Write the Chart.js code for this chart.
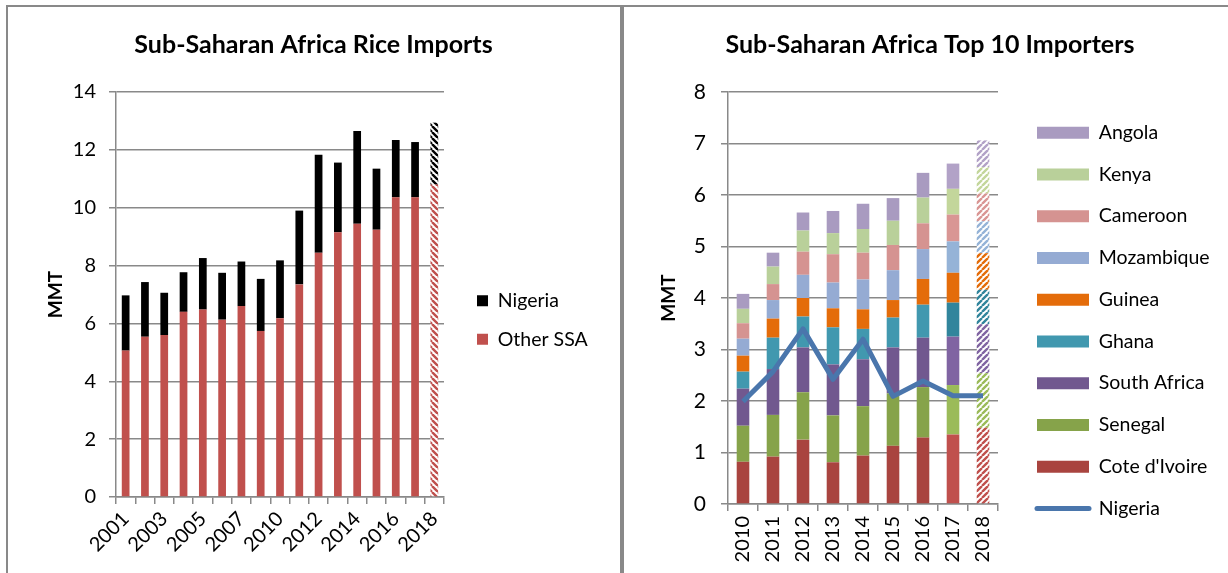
<!DOCTYPE html>
<html>
<head>
<meta charset="utf-8">
<title>Sub-Saharan Africa Rice Imports</title>
<script src="https://cdn.jsdelivr.net/npm/chart.js@4.4.1/dist/chart.umd.min.js"></script>
<style>
  html, body { margin: 0; padding: 0; background: #fff; overflow: hidden; }
  #page { position: relative; width: 1228px; height: 573px; overflow: hidden; }
  #leftFrame { position: absolute; left: 6px; top: 5px; width: 612px; height: 600px; border: 2px solid #898989; }
  #rightFrame { position: absolute; left: 622px; top: 5px; width: 700px; height: 600px; border-top: 2px solid #898989; border-left: 2px solid #898989; }
  canvas { position: absolute; top: 0; }
  #imports { left: 0; }
  #importers { left: 622px; }
</style>
</head>
<body>
<div id="page">
  <div id="leftFrame"></div>
  <div id="rightFrame"></div>
  <canvas id="imports" width="622" height="573"></canvas>
  <canvas id="importers" width="640" height="573"></canvas>
</div>
<script>
const FONT = 'Lato, "Open Sans", sans-serif';
const GRID = '#898989';
const LEGEND_SIZE = 19.5;

// left chart: SSA rice imports, MMT
const ssaYears = ['2001', '2002', '2003', '2004', '2005', '2006', '2007', '2008', '2010',
                  '2011', '2012', '2013', '2014', '2015', '2016', '2017', '2018'];
const ssaOther = [5.06, 5.54, 5.60, 6.40, 6.48, 6.13, 6.60, 5.74, 6.18,
                  7.35, 8.44, 9.15, 9.45, 9.24, 10.36, 10.36, 10.80];
const ssaNigeria = [1.91, 1.89, 1.46, 1.37, 1.78, 1.62, 1.54, 1.80, 2.00,
                    2.55, 3.39, 2.41, 3.20, 2.11, 1.98, 1.91, 2.14];
const ssaTicks = [0, 2, 4, 6, 8, 10, 12, 14];

// right chart: top 10 importers, MMT
const topYears = ['2010', '2011', '2012', '2013', '2014', '2015', '2016', '2017', '2018'];
const coteDIvoire = [0.82, 0.92, 1.25, 0.81, 0.94, 1.13, 1.29, 1.35, 1.48];
const senegal     = [0.70, 0.81, 0.92, 0.91, 0.96, 1.02, 0.98, 0.96, 1.06];
const southAfrica = [0.72, 0.89, 0.87, 0.99, 0.91, 0.89, 0.96, 0.94, 0.95];
const ghana       = [0.33, 0.61, 0.60, 0.72, 0.59, 0.58, 0.64, 0.66, 0.67];
const guinea      = [0.31, 0.37, 0.36, 0.37, 0.38, 0.34, 0.50, 0.58, 0.71];
const mozambique  = [0.33, 0.36, 0.45, 0.50, 0.58, 0.58, 0.58, 0.61, 0.62];
const cameroon    = [0.30, 0.31, 0.45, 0.55, 0.52, 0.49, 0.50, 0.52, 0.54];
const kenya       = [0.28, 0.34, 0.41, 0.41, 0.46, 0.47, 0.50, 0.50, 0.51];
const angola      = [0.29, 0.27, 0.35, 0.43, 0.49, 0.44, 0.48, 0.49, 0.52];
const nigeriaTop  = [1.99, 2.57, 3.40, 2.42, 3.20, 2.09, 2.39, 2.10, 2.10];
const topTicks = [0, 1, 2, 3, 4, 5, 6, 7, 8];

function textWidth(text, size, weight) {
  const g = document.createElement('canvas').getContext('2d');
  g.font = (weight ? weight + ' ' : '') + size + 'px ' + FONT;
  return g.measureText(text).width;
}

// diagonal hatch used for the 2018 estimate
function hatch(color, up) {
  const s = 6;
  const c = document.createElement('canvas');
  c.width = c.height = s;
  const g = c.getContext('2d');
  g.fillStyle = '#ffffff';
  g.fillRect(0, 0, s, s);
  g.strokeStyle = color;
  g.lineWidth = 2.4;
  g.beginPath();
  for (const k of [-s, 0, s]) {
    if (up) { g.moveTo(k, s); g.lineTo(k + s, 0); }
    else { g.moveTo(k, 0); g.lineTo(k + s, s); }
  }
  g.stroke();
  return g.createPattern(c, 'repeat');
}

function barColors(n, base, late, up) {
  const out = [];
  for (let i = 0; i < n; i++) out.push(base);
  out[n - 2] = late;
  out[n - 1] = hatch(late, up);
  return out;
}

// right padding so the legend box lands at boxX
function legendRightPad(labels, size, boxW, boxX, pad, canvasW) {
  const widest = Math.max(...labels.map(t => textWidth(t, size)));
  const legendW = pad + boxW + size / 2 + widest + 10;
  return canvasW - (boxX - pad + legendW);
}

function everyOther(v, i) {
  return i % 2 === 0 ? this.getLabelForValue(v) : '';
}

// ---------- left chart ----------
const padL_item = 38.6 - LEGEND_SIZE;
const padRL = legendRightPad(['Nigeria', 'Other SSA'], LEGEND_SIZE, 11, 477, padL_item, 622);
const padLL = Math.max(0, padRL + 5);

new Chart(document.getElementById('imports'), {
  type: 'bar',
  data: {
    labels: ssaYears,
    datasets: [
      { label: 'Other SSA', data: ssaOther, yAxisID: 'y',
        backgroundColor: barColors(ssaYears.length, '#C0504D', '#C0504D', false) },
      { label: 'Nigeria', data: ssaNigeria, yAxisID: 'y',
        backgroundColor: barColors(ssaYears.length, '#000000', '#000000', false) }
    ]
  },
  options: {
    responsive: false,
    animation: false,
    layout: { padding: { left: padLL, right: padRL, top: 0, bottom: 0 } },
    datasets: { bar: { categoryPercentage: 1, barPercentage: 0.4, borderWidth: 0 } },
    plugins: {
      title: {
        display: true,
        text: 'Sub-Saharan Africa Rice Imports',
        color: '#000',
        font: { family: FONT, size: 25, weight: 'bold' },
        padding: { top: 30, bottom: 32 }
      },
      legend: {
        position: 'right',
        align: 'start',
        reverse: true,
        maxWidth: 400,
        title: { display: true, text: '', font: { size: 10 },
                 padding: { top: 300.7 - LEGEND_SIZE / 2 - padL_item - 12, bottom: 0 } },
        labels: { boxWidth: 11, boxHeight: 11, padding: padL_item, color: '#000',
                  font: { family: FONT, size: LEGEND_SIZE } }
      },
      tooltip: { enabled: false }
    },
    scales: {
      x: {
        stacked: true,
        grid: { drawOnChartArea: false, tickLength: 7, color: GRID, lineWidth: 1.5, offset: true },
        border: { color: GRID, width: 1.5 },
        ticks: { autoSkip: false, minRotation: 45, maxRotation: 45, padding: 3, color: '#000',
                 font: { family: FONT, size: 20 }, callback: everyOther },
        afterFit: s => { s.height = 76; }
      },
      y: {
        stacked: true,
        min: ssaTicks[0],
        max: ssaTicks[ssaTicks.length - 1],
        grid: { color: GRID, lineWidth: 1.5, tickLength: 7 },
        border: { color: GRID, width: 1.5 },
        ticks: { stepSize: ssaTicks[1] - ssaTicks[0], padding: 13, color: '#000',
                 font: { family: FONT, size: 20 } },
        title: { display: true, text: 'MMT', color: '#000',
                 font: { family: FONT, size: 19, weight: 'bold' }, padding: Math.max(0, 56 - padLL - 11.4) },
        afterFit: s => { s.width = 116 - padLL; }
      },
      gap: {
        position: 'right',
        grid: { display: false },
        border: { display: false },
        ticks: { display: false },
        afterFit: s => { s.width = 477 - padL_item - 444; }
      }
    }
  }
});

// ---------- right chart ----------
const countries = [
  ["Cote d'Ivoire", coteDIvoire, '#A9443F', '#C0504D'],
  ['Senegal', senegal, '#86A34A', '#9BBB59'],
  ['South Africa', southAfrica, '#71588F', '#8064A2'],
  ['Ghana', ghana, '#4198AF', '#31859C'],
  ['Guinea', guinea, '#E46C0A', '#E46C0A'],
  ['Mozambique', mozambique, '#95ABD3', '#95B3D7'],
  ['Cameroon', cameroon, '#D59391', '#D99694'],
  ['Kenya', kenya, '#B9D09A', '#C3D69B'],
  ['Angola', angola, '#A99BC0', '#B2A2C7']
];

const padR_item = 41.75 - LEGEND_SIZE;
const padRR = legendRightPad(countries.map(c => c[0]).concat('Nigeria'), LEGEND_SIZE, 52, 415, padR_item, 640);
const padLR = Math.max(0, padRR - 24);

const topDatasets = [{
  type: 'line',
  label: 'Nigeria',
  data: nigeriaTop,
  yAxisID: 'y',
  borderColor: '#4A76AC',
  backgroundColor: '#4A76AC',
  borderWidth: 5,
  borderJoinStyle: 'round',
  pointRadius: 0,
  pointStyle: 'line',
  tension: 0
}].concat(countries.map(c => ({
  label: c[0],
  data: c[1],
  yAxisID: 'y',
  pointStyle: 'rect',
  backgroundColor: barColors(topYears.length, c[2], c[3], true)
})));

new Chart(document.getElementById('importers'), {
  type: 'bar',
  data: { labels: topYears, datasets: topDatasets },
  options: {
    responsive: false,
    animation: false,
    layout: { padding: { left: padLR, right: padRR, top: 0, bottom: 0 } },
    datasets: { bar: { categoryPercentage: 1, barPercentage: 0.42, borderWidth: 0 } },
    plugins: {
      title: {
        display: true,
        text: 'Sub-Saharan Africa Top 10 Importers',
        color: '#000',
        font: { family: FONT, size: 25, weight: 'bold' },
        padding: { top: 30, bottom: 32 }
      },
      legend: {
        position: 'right',
        align: 'start',
        reverse: true,
        maxWidth: 400,
        title: { display: true, text: '', font: { size: 10 },
                 padding: { top: 132.7 - LEGEND_SIZE / 2 - padR_item - 12, bottom: 0 } },
        labels: {
          usePointStyle: true, pointStyleWidth: 52, boxHeight: 12, padding: padR_item, color: '#000',
          font: { family: FONT, size: LEGEND_SIZE },
          generateLabels: chart => {
            const items = Chart.defaults.plugins.legend.labels.generateLabels(chart);
            items.forEach(it => {
              if (it.pointStyle === 'line') { it.lineWidth = 5; it.lineCap = 'round'; it.strokeStyle = '#4A76AC'; }
            });
            return items;
          }
        }
      },
      tooltip: { enabled: false }
    },
    scales: {
      x: {
        stacked: true,
        grid: { drawOnChartArea: false, tickLength: 7, color: GRID, lineWidth: 1.5, offset: true },
        border: { color: GRID, width: 1.5 },
        ticks: { autoSkip: false, minRotation: 90, maxRotation: 90, padding: 5, color: '#000',
                 font: { family: FONT, size: 20 } },
        afterFit: s => { s.height = 69; }
      },
      y: {
        stacked: true,
        min: topTicks[0],
        max: topTicks[topTicks.length - 1],
        grid: { color: GRID, lineWidth: 1.5, tickLength: 7 },
        border: { color: GRID, width: 1.5 },
        ticks: { stepSize: topTicks[1] - topTicks[0], padding: 15, color: '#000',
                 font: { family: FONT, size: 21 } },
        title: { display: true, text: 'MMT', color: '#000',
                 font: { family: FONT, size: 19, weight: 'bold' }, padding: Math.max(0, 47 - padLR - 11.4) },
        afterFit: s => { s.width = 106 - padLR; }
      },
      gap: {
        position: 'right',
        grid: { display: false },
        border: { display: false },
        ticks: { display: false },
        afterFit: s => { s.width = 415 - padR_item - 376; }
      }
    }
  }
});
</script>
</body>
</html>
